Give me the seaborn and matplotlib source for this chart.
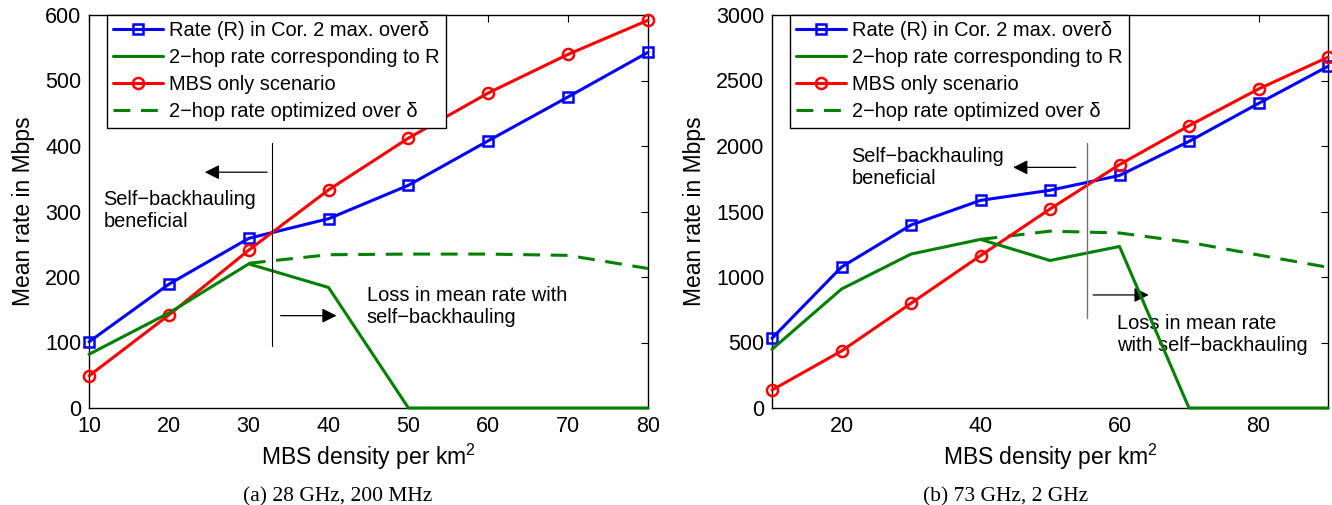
import matplotlib
matplotlib.use("Agg")
import matplotlib.pyplot as plt
import seaborn as sns
import pandas as pd

# ---------------- data ----------------
# Panel (a): 28 GHz, 200 MHz
density_a = [10, 20, 30, 40, 50, 60, 70, 80]
rate_a = [101, 189, 259, 289, 340, 408, 475, 543]
twohop_a = [82, 145, 220, 184, 0, 0, 0, 0]
mbs_a = [49, 142, 241, 333, 412, 481, 540, 592]
opt_density_a = [30, 40, 50, 60, 70, 80]
opt_a = [221, 234, 235, 235, 233, 213]

# Panel (b): 73 GHz, 2 GHz
density_b = [10, 20, 30, 40, 50, 60, 70, 80, 90]
rate_b = [532, 1076, 1397, 1585, 1662, 1775, 2035, 2325, 2608]
twohop_b = [448, 908, 1175, 1287, 1126, 1233, 0, 0, 0]
mbs_b = [137, 435, 799, 1163, 1519, 1858, 2155, 2435, 2678]
opt_density_b = [40, 50, 60, 70, 80, 90]
opt_b = [1287, 1350, 1336, 1265, 1168, 1074]

labels = ["Rate (R) in Cor. 2 max. over\u03b4",
          "2\u2212hop rate corresponding to R",
          "MBS only scenario",
          "2\u2212hop rate optimized over \u03b4"]
xlabel = "MBS density per km$^2$"
ylabel = "Mean rate in Mbps"
captions = ["(a) 28 GHz, 200 MHz", "(b) 73 GHz, 2 GHz"]

BLUE, GREEN, RED = "#0000ff", "#008000", "#ff0000"

sns.set_style("white")
plt.rcParams["font.family"] = ["Liberation Sans", "DejaVu Sans"]
plt.rcParams["mathtext.fontset"] = "custom"
plt.rcParams["mathtext.rm"] = "Liberation Sans"
plt.rcParams["mathtext.it"] = "Liberation Sans:italic"
plt.rcParams["mathtext.bf"] = "Liberation Sans:bold"
for k in ["text.color", "axes.labelcolor", "xtick.color", "ytick.color",
          "axes.edgecolor"]:
    plt.rcParams[k] = "black"

fig = plt.figure(figsize=(13.32, 5.05), dpi=100)
W, H = 1332, 505
ax_a = fig.add_axes([89 / W, 1 - 408 / H, (648 - 89) / W, (408 - 15) / H])
ax_b = fig.add_axes([772 / W, 1 - 408 / H, (1328 - 772) / W, (408 - 15) / H])


def draw(ax, x, rate, twohop, mbs, ox, opt):
    lw = 2.2
    sns.lineplot(x=x, y=rate, ax=ax, color=BLUE, lw=lw, marker="s",
                 markersize=7.5, markerfacecolor="none", markeredgecolor=BLUE,
                 markeredgewidth=1.8, clip_on=False, label=labels[0], zorder=3)
    sns.lineplot(x=x, y=twohop, ax=ax, color=GREEN, lw=lw, clip_on=False,
                 label=labels[1], zorder=4)
    sns.lineplot(x=x, y=mbs, ax=ax, color=RED, lw=lw, marker="o",
                 markersize=8, markerfacecolor="none", markeredgecolor=RED,
                 markeredgewidth=1.8, clip_on=False, label=labels[2], zorder=3.5)
    sns.lineplot(x=ox, y=opt, ax=ax, color=GREEN, lw=lw, clip_on=False,
                 label=labels[3], zorder=3)
    lines = ax.get_lines()
    for ln in lines:
        ln.set_clip_on(False)
    lines[3].set_linestyle((0, (5.5, 3.5)))
    for ln, col in zip(lines[:4], [BLUE, GREEN, RED, GREEN]):
        ln.set_markeredgecolor(col)
    handles = lines[:4]
    leg = ax.legend(handles, labels, loc="upper left",
                    bbox_to_anchor=(0.032, 1.0), borderaxespad=0,
                    fontsize=14.4, frameon=True, fancybox=False,
                    framealpha=1, edgecolor="black", handlelength=2.5,
                    handletextpad=0.28, labelspacing=0.4, borderpad=0.32)
    leg.get_frame().set_linewidth(1.0)
    leg.set_zorder(10)
    for t in leg.get_texts():
        t.set_color("black")
    ax.set_xlabel(xlabel, fontsize=16.5, labelpad=4, color="black")
    ax.set_ylabel(ylabel, fontsize=16.5, labelpad=7, color="black")
    ax.tick_params(direction="in", length=5, width=0.8, top=True, right=True,
                   labelsize=15.5, pad=5.5, colors="black")
    for s in ax.spines.values():
        s.set_visible(True)
        s.set_color("black")
        s.set_linewidth(1.0)


arrow_kw = dict(arrowstyle="-|>", color="black", lw=0.9,
                mutation_scale=22, shrinkA=0, shrinkB=0)

# ---------------- panel (a) ----------------
draw(ax_a, density_a, rate_a, twohop_a, mbs_a, opt_density_a, opt_a)
ax_a.set_xlim(10, 80)
ax_a.set_ylim(0, 600)
ax_a.set_xticks([10, 20, 30, 40, 50, 60, 70, 80])
ax_a.set_yticks([0, 100, 200, 300, 400, 500, 600])
ax_a.plot([32.9, 32.9], [95, 405], color="black", lw=0.8, zorder=5)
ax_a.annotate("", xy=(24.5, 360), xytext=(32.3, 360), arrowprops=arrow_kw)
ax_a.annotate("", xy=(41.0, 141), xytext=(34.0, 141), arrowprops=arrow_kw)
ax_a.text(11.8, 301, "Self\u2212backhauling\nbeneficial", fontsize=14.4,
          ha="left", va="center", linespacing=1.2, color="black")
ax_a.text(44.8, 155, "Loss in mean rate with\nself\u2212backhauling",
          fontsize=14.4, ha="left", va="center", linespacing=1.2,
          color="black")

# ---------------- panel (b) ----------------
draw(ax_b, density_b, rate_b, twohop_b, mbs_b, opt_density_b, opt_b)
ax_b.set_xlim(10, 90)
ax_b.set_ylim(0, 3000)
ax_b.set_xticks([20, 40, 60, 80])
ax_b.set_yticks([0, 500, 1000, 1500, 2000, 2500, 3000])
ax_b.plot([55.3, 55.3], [685, 2020], color="0.45", lw=1.0, zorder=5)
ax_b.annotate("", xy=(44.7, 1837), xytext=(53.7, 1837), arrowprops=arrow_kw)
ax_b.annotate("", xy=(64.2, 863), xytext=(56.2, 863), arrowprops=arrow_kw)
ax_b.text(21.4, 1833, "Self\u2212backhauling\nbeneficial", fontsize=14.4,
          ha="left", va="center", linespacing=1.2, color="black")
ax_b.text(59.6, 564, "Loss in mean rate\nwith self\u2212backhauling",
          fontsize=14.4, ha="left", va="center", linespacing=1.2,
          color="black")

fig.text(338 / W, 1 - 497 / H, captions[0], ha="center", va="center",
         family="Liberation Serif", fontsize=15.5, color="black")
fig.text(1006 / W, 1 - 497 / H, captions[1], ha="center", va="center",
         family="Liberation Serif", fontsize=15.5, color="black")

fig.savefig("out.png", dpi=100)
